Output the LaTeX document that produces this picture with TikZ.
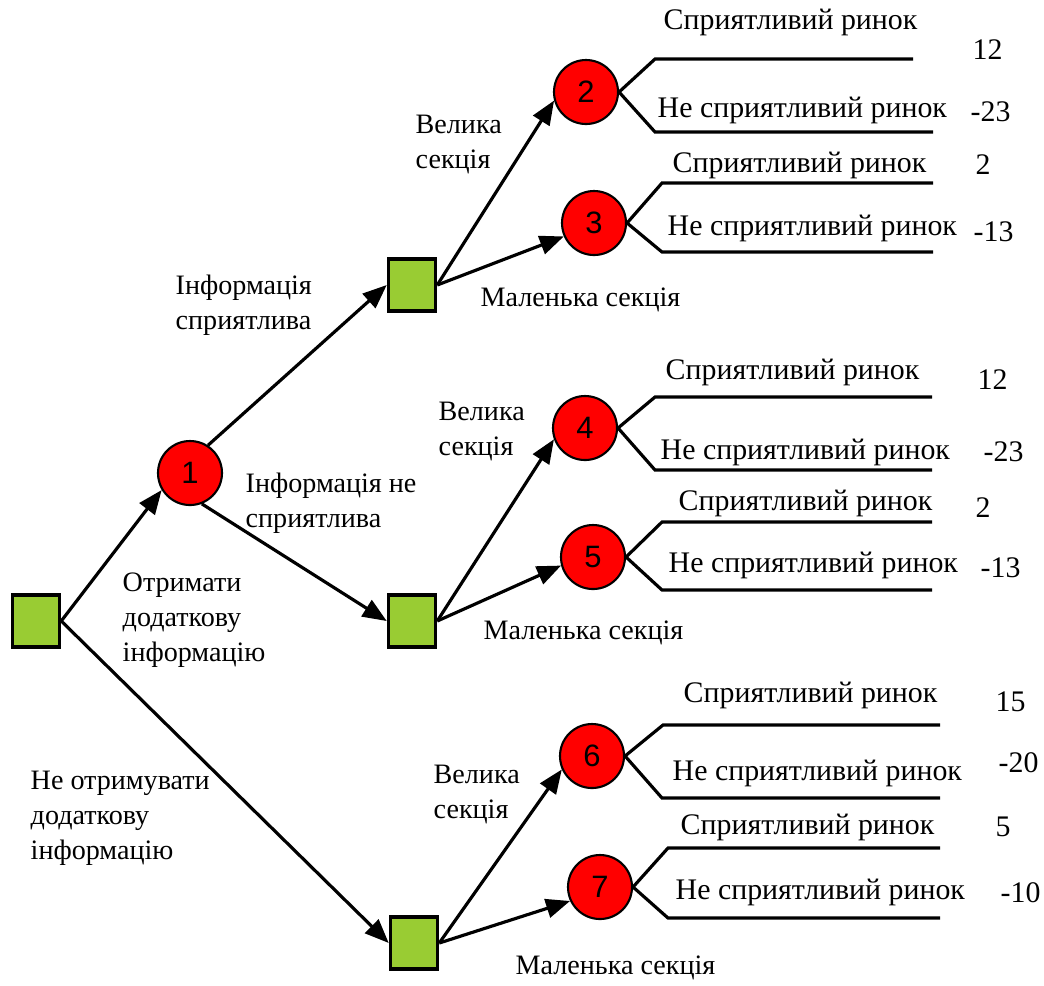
\documentclass[tikz,border=0pt]{standalone}
\usepackage{fontspec}
\setmainfont{Liberation Serif}
\newfontfamily\digitfont{Liberation Sans}
\usetikzlibrary{arrows.meta}
\definecolor{chancered}{HTML}{FF0000}
\definecolor{decgreen}{HTML}{99CC33}
\tikzset{
decision/.style={draw,line width=1pt,fill=decgreen,minimum width=4.7mm,minimum height=5.2mm,inner sep=0pt},
chance/.style={circle,draw,line width=.6pt,fill=chancered,minimum size=6.4mm,inner sep=0pt,font=\digitfont\fontsize{8.8}{10}\selectfont},
branch/.style={-{Triangle[length=2.4mm,width=1.9mm]},line width=.9pt},
payoff/.style={line width=.9pt},
lbl/.style={font=\fontsize{8}{10}\selectfont,inner sep=0pt,align=left},
pay/.style={lbl,font=\fontsize{8.5}{10}\selectfont,anchor=west}}

\begin{document}
\begin{tikzpicture}[x=0.1mm,y=-0.1mm]
\useasboundingbox (0,0) rectangle (1044,985);
% decisions
\node[decision] (d0) at (36,621) {};
\node[decision] (dA) at (412,285) {};
\node[decision] (dB) at (412,621) {};
\node[decision] (dC) at (414,943) {};
% chance nodes
\node[chance] (c1) at (190,473) {1};
\node[chance] (c2) at (586,92) {2};
\node[chance] (c3) at (594,223) {3};
\node[chance] (c4) at (585,428) {4};
\node[chance] (c5) at (593,557) {5};
\node[chance] (c6) at (592,756) {6};
\node[chance] (c7) at (600,887) {7};
% branches
\draw[branch] (d0.east)--(c1.211);
\draw[branch] (d0.east)--(dC.west);
\draw[branch] (c1.57)--(dA.west);
\draw[branch] (c1.-69)--(dB.west);
\draw[branch] (dA.east)--(c2.195);
\draw[branch] (dA.east)--(c3.204);
\draw[branch] (dB.east)--(c4.200);
\draw[branch] (dB.east)--(c5.195);
\draw[branch] (dC.east)--(c6.204);
\draw[branch] (dC.east)--(c7.205);
% branch labels
\node[lbl,anchor=north west] (infoyes) at (175,274) {Інформація\\сприятлива};
\node[lbl,anchor=north west] (infono) at (245,472) {Інформація не\\сприятлива};
\node[lbl,anchor=north west] (getinfo) at (122,572) {Отримати\\додаткову\\інформацію};
\node[lbl,anchor=north west] (noinfo) at (30,770) {Не отримувати\\додаткову\\інформацію};
\node[lbl,anchor=north west] (bigA) at (415,114) {Велика\\секція};
\node[lbl,anchor=north west] (bigB) at (438,401) {Велика\\секція};
\node[lbl,anchor=north west] (bigC) at (433,764) {Велика\\секція};
\node[lbl,anchor=west] (smallA) at (480,300) {Маленька секція};
\node[lbl,anchor=west] (smallB) at (483,633) {Маленька секція};
\node[lbl,anchor=west] (smallC) at (515,968) {Маленька секція};
% payoff lines
\coordinate (c2u) at (655,59); \coordinate (c2ue) at (913,59);
\coordinate (c2d) at (655,132); \coordinate (c2de) at (933,132);
\coordinate (c3u) at (662,183); \coordinate (c3ue) at (933,183);
\coordinate (c3d) at (662,252); \coordinate (c3de) at (933,252);
\coordinate (c4u) at (655,397); \coordinate (c4ue) at (932,397);
\coordinate (c4d) at (655,470); \coordinate (c4de) at (932,470);
\coordinate (c5u) at (662,522); \coordinate (c5ue) at (932,522);
\coordinate (c5d) at (662,590); \coordinate (c5de) at (932,590);
\coordinate (c6u) at (663,725); \coordinate (c6ue) at (940,725);
\coordinate (c6d) at (662,798); \coordinate (c6de) at (940,798);
\coordinate (c7u) at (668,848); \coordinate (c7ue) at (940,848);
\coordinate (c7d) at (668,918); \coordinate (c7de) at (940,918);
\draw[payoff] (c2.east)--(c2u)--(c2ue); \draw[payoff] (c2.east)--(c2d)--(c2de);
\draw[payoff] (c3.east)--(c3u)--(c3ue); \draw[payoff] (c3.east)--(c3d)--(c3de);
\draw[payoff] (c4.east)--(c4u)--(c4ue); \draw[payoff] (c4.east)--(c4d)--(c4de);
\draw[payoff] (c5.east)--(c5u)--(c5ue); \draw[payoff] (c5.east)--(c5d)--(c5de);
\draw[payoff] (c6.east)--(c6u)--(c6ue); \draw[payoff] (c6.east)--(c6d)--(c6de);
\draw[payoff] (c7.east)--(c7u)--(c7ue); \draw[payoff] (c7.east)--(c7d)--(c7de);
% outcomes
\node[pay] (fav2) at (663,22) {Сприятливий ринок};
\node[pay] (unf2) at (657,110) {Не сприятливий ринок};
\node[pay] (v2a) at (972,50) {12};
\node[pay] (v2b) at (970,112) {-23};
\node[pay] (fav3) at (672,165) {Сприятливий ринок};
\node[pay] (unf3) at (667,228) {Не сприятливий ринок};
\node[pay] (v3a) at (975,165) {2};
\node[pay] (v3b) at (973,232) {-13};
\node[pay] (fav4) at (665,372) {Сприятливий ринок};
\node[pay] (unf4) at (660,452) {Не сприятливий ринок};
\node[pay] (v4a) at (977,380) {12};
\node[pay] (v4b) at (983,452) {-23};
\node[pay] (fav5) at (678,503) {Сприятливий ринок};
\node[pay] (unf5) at (668,565) {Не сприятливий ринок};
\node[pay] (v5a) at (975,508) {2};
\node[pay] (v5b) at (980,568) {-13};
\node[pay] (fav6) at (683,695) {Сприятливий ринок};
\node[pay] (unf6) at (672,773) {Не сприятливий ринок};
\node[pay] (v6a) at (995,702) {15};
\node[pay] (v6b) at (998,763) {-20};
\node[pay] (fav7) at (680,827) {Сприятливий ринок};
\node[pay] (unf7) at (675,892) {Не сприятливий ринок};
\node[pay] (v7a) at (995,827) {5};
\node[pay] (v7b) at (1000,893) {-10};
\end{tikzpicture}
\end{document}
